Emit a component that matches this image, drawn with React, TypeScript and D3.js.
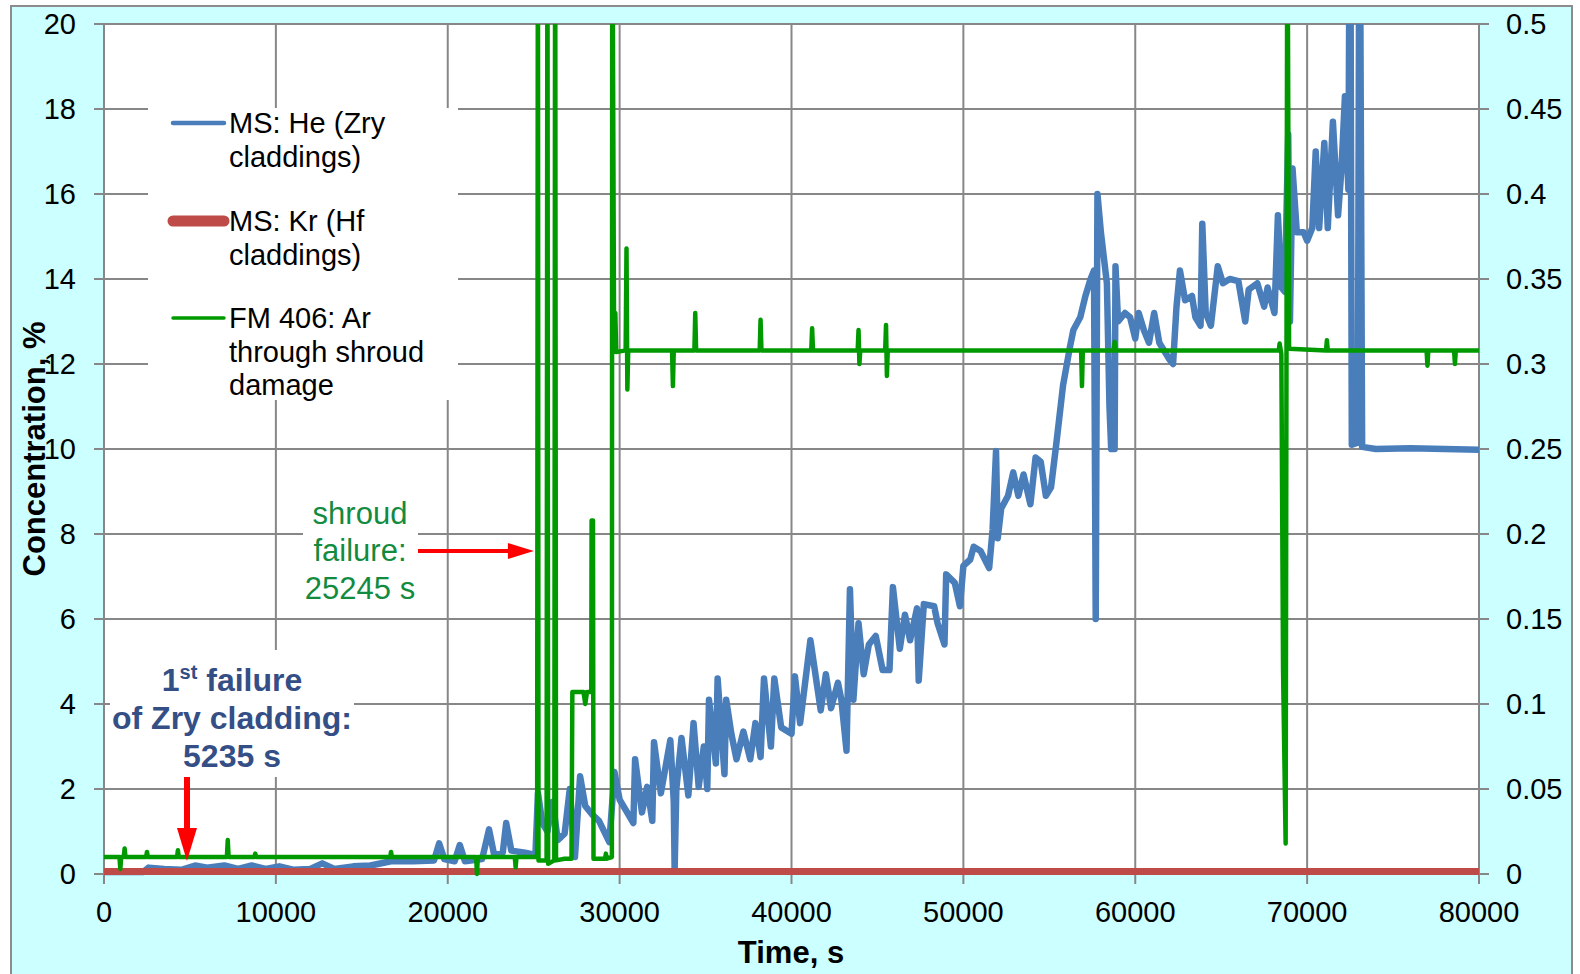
import React from "react";
import * as d3 from "d3";

// MS: He (Zry claddings) — [time s, concentration %], left axis
const heData: [number, number][] = [
  [0, 0.05], [2300, 0.05], [2600, 0.15], [3500, 0.12], [4500, 0.1], [5300, 0.2], [6000, 0.15],
  [7000, 0.2], [7800, 0.12], [8600, 0.2], [9400, 0.12], [10200, 0.18], [11000, 0.1], [12000, 0.12],
  [12700, 0.25], [13400, 0.12], [14500, 0.18], [15500, 0.2], [16700, 0.3], [18000, 0.3], [19200, 0.32],
  [19500, 0.72], [19800, 0.35], [20400, 0.3], [20700, 0.68], [21000, 0.3], [22000, 0.35], [22400, 1.05],
  [22700, 0.45], [23200, 0.5], [23400, 1.2], [23700, 0.55], [24500, 0.5], [25100, 0.45], [25250, 1.9],
  [25500, 1.2], [25800, 1.0], [26100, 1.7], [26400, 0.8], [26800, 0.95], [27100, 2.0], [27400, 0.4],
  [27700, 2.3], [28000, 1.6], [28400, 1.4], [28800, 1.25], [29400, 0.75], [29700, 2.4], [30000, 1.75],
  [30800, 1.2], [30900, 2.7], [31300, 1.45], [31600, 2.05], [31900, 1.25], [32000, 3.1], [32400, 1.9],
  [32950, 3.15], [33150, 1.7], [33200, 0.1], [33300, 2.0], [33600, 3.2], [34000, 1.85], [34300, 3.55],
  [34600, 2.05], [34900, 3.0], [35100, 2.0], [35200, 4.1], [35600, 2.6], [35700, 4.6], [36100, 2.35],
  [36200, 4.1], [36500, 3.3], [36800, 2.7], [37200, 3.35], [37600, 2.7], [37900, 3.55], [38200, 2.75],
  [38400, 4.6], [38800, 3.0], [39000, 4.6], [39400, 3.45], [40000, 3.3], [40200, 4.65], [40500, 3.55],
  [41100, 5.5], [41700, 3.85], [42000, 4.7], [42300, 3.9], [42700, 4.5], [42900, 4.1], [43200, 2.9],
  [43400, 6.7], [43600, 4.1], [43900, 5.9], [44200, 4.7], [44500, 5.4], [44900, 5.6], [45300, 4.8],
  [45700, 4.8], [45900, 6.75], [46300, 5.3], [46600, 6.1], [46900, 5.5], [47300, 6.25], [47400, 4.55],
  [47700, 6.35], [48300, 6.3], [48500, 5.9], [48900, 5.4], [49000, 7.05], [49500, 6.85], [49800, 6.3],
  [50000, 7.25], [50400, 7.4], [50600, 7.7], [51000, 7.6], [51500, 7.2], [51700, 8.1], [51900, 9.95],
  [52000, 7.9], [52200, 8.6], [52600, 8.9], [52900, 9.45], [53200, 8.9], [53500, 9.4], [53900, 8.7],
  [54200, 9.8], [54500, 9.7], [54800, 8.9], [55100, 9.1], [55400, 10.1], [55800, 11.5], [56200, 12.4],
  [56400, 12.8], [56800, 13.1], [57100, 13.6], [57400, 14.0], [57600, 14.2], [57700, 6.0], [57800, 16.0],
  [58000, 15.1], [58350, 13.9], [58500, 11.0], [58600, 10.0], [58800, 10.0], [58850, 14.3], [59000, 13.0],
  [59400, 13.2], [59700, 13.1], [60000, 12.6], [60200, 13.2], [60500, 12.8], [60800, 12.5], [61100, 13.2],
  [61400, 12.5], [61700, 12.3], [62000, 12.1], [62200, 12.0], [62400, 13.35], [62600, 14.2], [62900, 13.5],
  [63300, 13.6], [63500, 13.1], [63800, 12.9], [63900, 15.3], [64100, 13.2], [64400, 12.9], [64800, 14.3],
  [65100, 13.9], [65500, 14.0], [66000, 13.95], [66400, 13.0], [66600, 13.75], [67100, 13.9], [67500, 13.35],
  [67700, 13.8], [68100, 13.2], [68300, 15.5], [68500, 13.8], [68700, 13.7], [68900, 17.4], [69000, 13.0],
  [69150, 16.6], [69400, 15.1], [69800, 15.1], [70000, 14.9], [70300, 15.2], [70500, 17.0], [70700, 15.2],
  [71000, 17.2], [71200, 15.2], [71500, 17.7], [71800, 15.5], [72000, 16.6], [72200, 18.3], [72400, 16.1],
  [72500, 25], [72600, 10.1], [72950, 10.15], [73050, 25], [73200, 10.05], [74000, 10.0], [76000, 10.02],
  [78000, 10.0], [80000, 9.98],
];

// MS: Kr (Hf claddings), left axis
const krData: [number, number][] = [
  [0, 0.06], [20000, 0.06], [40000, 0.06], [60000, 0.06], [80000, 0.06],
];

// FM 406: Ar through shroud damage, right axis
const arData: [number, number][] = [
  [0, 0.01], [900, 0.01], [950, 0.003], [1000, 0.01], [1150, 0.01], [1200, 0.015], [1250, 0.01],
  [2450, 0.01], [2500, 0.013], [2550, 0.01], [4250, 0.01], [4300, 0.014], [4350, 0.01], [7150, 0.01],
  [7200, 0.02], [7250, 0.01], [8750, 0.01], [8800, 0.012], [8850, 0.01], [16650, 0.01], [16700, 0.013],
  [16750, 0.01], [21650, 0.01], [21700, 0.0], [21750, 0.01], [23900, 0.01], [23950, 0.004], [24000, 0.01],
  [25200, 0.01], [25245, 0.6], [25280, 0.008], [25750, 0.008], [25800, 0.6], [25840, 0.006], [26200, 0.008],
  [26250, 0.6], [26300, 0.008], [26800, 0.009], [27200, 0.009], [27250, 0.107], [27900, 0.107],
  [28000, 0.1], [28100, 0.107], [28350, 0.107], [28370, 0.208], [28450, 0.208], [28480, 0.009],
  [29150, 0.009], [29200, 0.012], [29250, 0.009], [29550, 0.01], [29570, 0.6], [29680, 0.31], [29750, 0.33],
  [29800, 0.307], [30350, 0.308], [30400, 0.368], [30450, 0.285], [30500, 0.308], [33050, 0.308],
  [33100, 0.287], [33150, 0.308], [34350, 0.308], [34400, 0.33], [34450, 0.308], [38150, 0.308],
  [38200, 0.326], [38250, 0.308], [41150, 0.308], [41200, 0.321], [41250, 0.308], [43850, 0.308],
  [43900, 0.32], [43950, 0.3], [44000, 0.308], [45450, 0.308], [45500, 0.323], [45550, 0.293],
  [45600, 0.308], [56850, 0.308], [56900, 0.287], [56950, 0.308], [58750, 0.308], [58800, 0.313],
  [58850, 0.308], [68350, 0.308], [68400, 0.312], [68500, 0.306], [68600, 0.12], [68750, 0.018],
  [68850, 0.6], [68950, 0.309], [71100, 0.308], [71150, 0.314], [71200, 0.308], [76950, 0.308],
  [77000, 0.299], [77050, 0.308], [78550, 0.308], [78600, 0.3], [78650, 0.308], [80000, 0.308],
];

const xTicks = [0, 10000, 20000, 30000, 40000, 50000, 60000, 70000, 80000];
const yLeftTicks = [0, 2, 4, 6, 8, 10, 12, 14, 16, 18, 20];
const yRightTicks = [0, 0.05, 0.1, 0.15, 0.2, 0.25, 0.3, 0.35, 0.4, 0.45, 0.5];
const yRightLabels = ["0", "0.05", "0.1", "0.15", "0.2", "0.25", "0.3", "0.35", "0.4", "0.45", "0.5"];

const legendItems = [
  { lines: ["MS: He (Zry", "claddings)"], color: "#4A7EBB", width: 4.5 },
  { lines: ["MS: Kr (Hf", "claddings)"], color: "#BE4B48", width: 11 },
  { lines: ["FM 406: Ar", "through shroud", "damage"], color: "#009A00", width: 3.5 },
];

const shroudTime = 25245;
const firstFailureTime = 5235;

const FONT = "'Liberation Sans', Arial, sans-serif";
const GRID = "#878787";

export default function App() {
  const left = 104, right = 1479, top = 24, bottom = 874;

  const x = d3.scaleLinear().domain([0, 80000]).range([left, right]);
  const yL = d3.scaleLinear().domain([0, 20]).range([bottom, top]);
  const yR = d3.scaleLinear().domain([0, 0.5]).range([bottom, top]);

  const lineL = d3.line<[number, number]>().x(d => x(d[0])).y(d => yL(d[1]));
  const lineR = d3.line<[number, number]>().x(d => x(d[0])).y(d => yR(d[1]));

  const legendY = [123, 221, 318];
  const shroudX = x(shroudTime);
  const firstX = x(firstFailureTime) - 7;

  return (
    <div style={{ position: "absolute", left: 0, top: 0 }}>
      <svg width={1580} height={974} style={{ display: "block", fontFamily: FONT }}>
        <defs>
          <clipPath id="plotClip">
            <rect x={left} y={top} width={right - left} height={bottom - top + 4} />
          </clipPath>
        </defs>
        <rect x={0} y={0} width={1580} height={974} fill="#fff" />
        <rect x={11} y={6} width={1561} height={990} fill="#CCFFFF" stroke="#8c8c8c" strokeWidth={2} />
        <rect x={left} y={top} width={right - left} height={bottom - top} fill="#fff" />

        {/* grid */}
        {yLeftTicks.map(t => (
          <line key={"gy" + t} x1={left - 10} x2={right + 10} y1={yL(t)} y2={yL(t)} stroke={GRID} strokeWidth={2} />
        ))}
        {xTicks.map(t => (
          <line key={"gx" + t} x1={x(t)} x2={x(t)} y1={top} y2={bottom + 10} stroke={GRID} strokeWidth={2} />
        ))}

        {/* annotation backgrounds */}
        <rect x={148} y={108} width={310} height={292} fill="#fff" />
        <rect x={303} y={492} width={115} height={120} fill="#fff" />
        <rect x={110} y={650} width={244} height={127} fill="#fff" />

        {/* series */}
        <g clipPath="url(#plotClip)" fill="none" strokeLinejoin="round" strokeLinecap="round">
          <path d={lineL(heData) || ""} stroke="#4A7EBB" strokeWidth={6.5} />
          <path d={lineL(krData) || ""} stroke="#BE4B48" strokeWidth={7} strokeLinecap="butt" />
          <path d={lineR(arData) || ""} stroke="#009A00" strokeWidth={4.5} />
        </g>

        {/* tick labels */}
        {yLeftTicks.map(t => (
          <text key={"ly" + t} x={76} y={yL(t) + 10} textAnchor="end" fontSize={29} fill="#000">{t}</text>
        ))}
        {yRightTicks.map((t, i) => (
          <text key={"ry" + t} x={1506} y={yR(t) + 10} textAnchor="start" fontSize={29} fill="#000">{yRightLabels[i]}</text>
        ))}
        {xTicks.map(t => (
          <text key={"lx" + t} x={x(t)} y={922} textAnchor="middle" fontSize={29} fill="#000">{t}</text>
        ))}

        <text x={791} y={963} textAnchor="middle" fontSize={31} fontWeight="bold">Time, s</text>
        <text transform="translate(45,449) rotate(-90)" textAnchor="middle" fontSize={31} fontWeight="bold">Concentration, %</text>

        {/* legend */}
        {legendItems.map((item, i) => (
          <g key={"lg" + i}>
            <line x1={173} x2={224} y1={legendY[i]} y2={legendY[i]} stroke={item.color} strokeWidth={item.width} strokeLinecap="round" />
            {item.lines.map((s, j) => (
              <text key={j} x={229} y={legendY[i] + 10 + j * 33.5} fontSize={29} fill="#000">{s}</text>
            ))}
          </g>
        ))}

        {/* shroud failure */}
        <g fill="#138B3F" fontSize={31} textAnchor="middle">
          <text x={360} y={524}>shroud</text>
          <text x={360} y={561}>failure:</text>
          <text x={360} y={599}>{shroudTime} s</text>
        </g>
        <line x1={418} x2={shroudX - 26} y1={551} y2={551} stroke="#FF0000" strokeWidth={4} />
        <path d={`M${shroudX - 4},551 L${shroudX - 30},543 L${shroudX - 30},559 Z`} fill="#FF0000" />

        {/* first failure */}
        <g fill="#344E86" fontSize={32} fontWeight="bold" textAnchor="middle">
          <text x={232} y={691}>1<tspan fontSize={20} dy={-12}>st</tspan><tspan dy={12}> failure</tspan></text>
          <text x={232} y={729}>of Zry cladding:</text>
          <text x={232} y={767}>{firstFailureTime} s</text>
        </g>
        <line x1={firstX} x2={firstX} y1={777} y2={832} stroke="#FF0000" strokeWidth={6} />
        <path d={`M${firstX},861 L${firstX - 10},828 L${firstX + 10},828 Z`} fill="#FF0000" />
      </svg>
    </div>
  );
}
